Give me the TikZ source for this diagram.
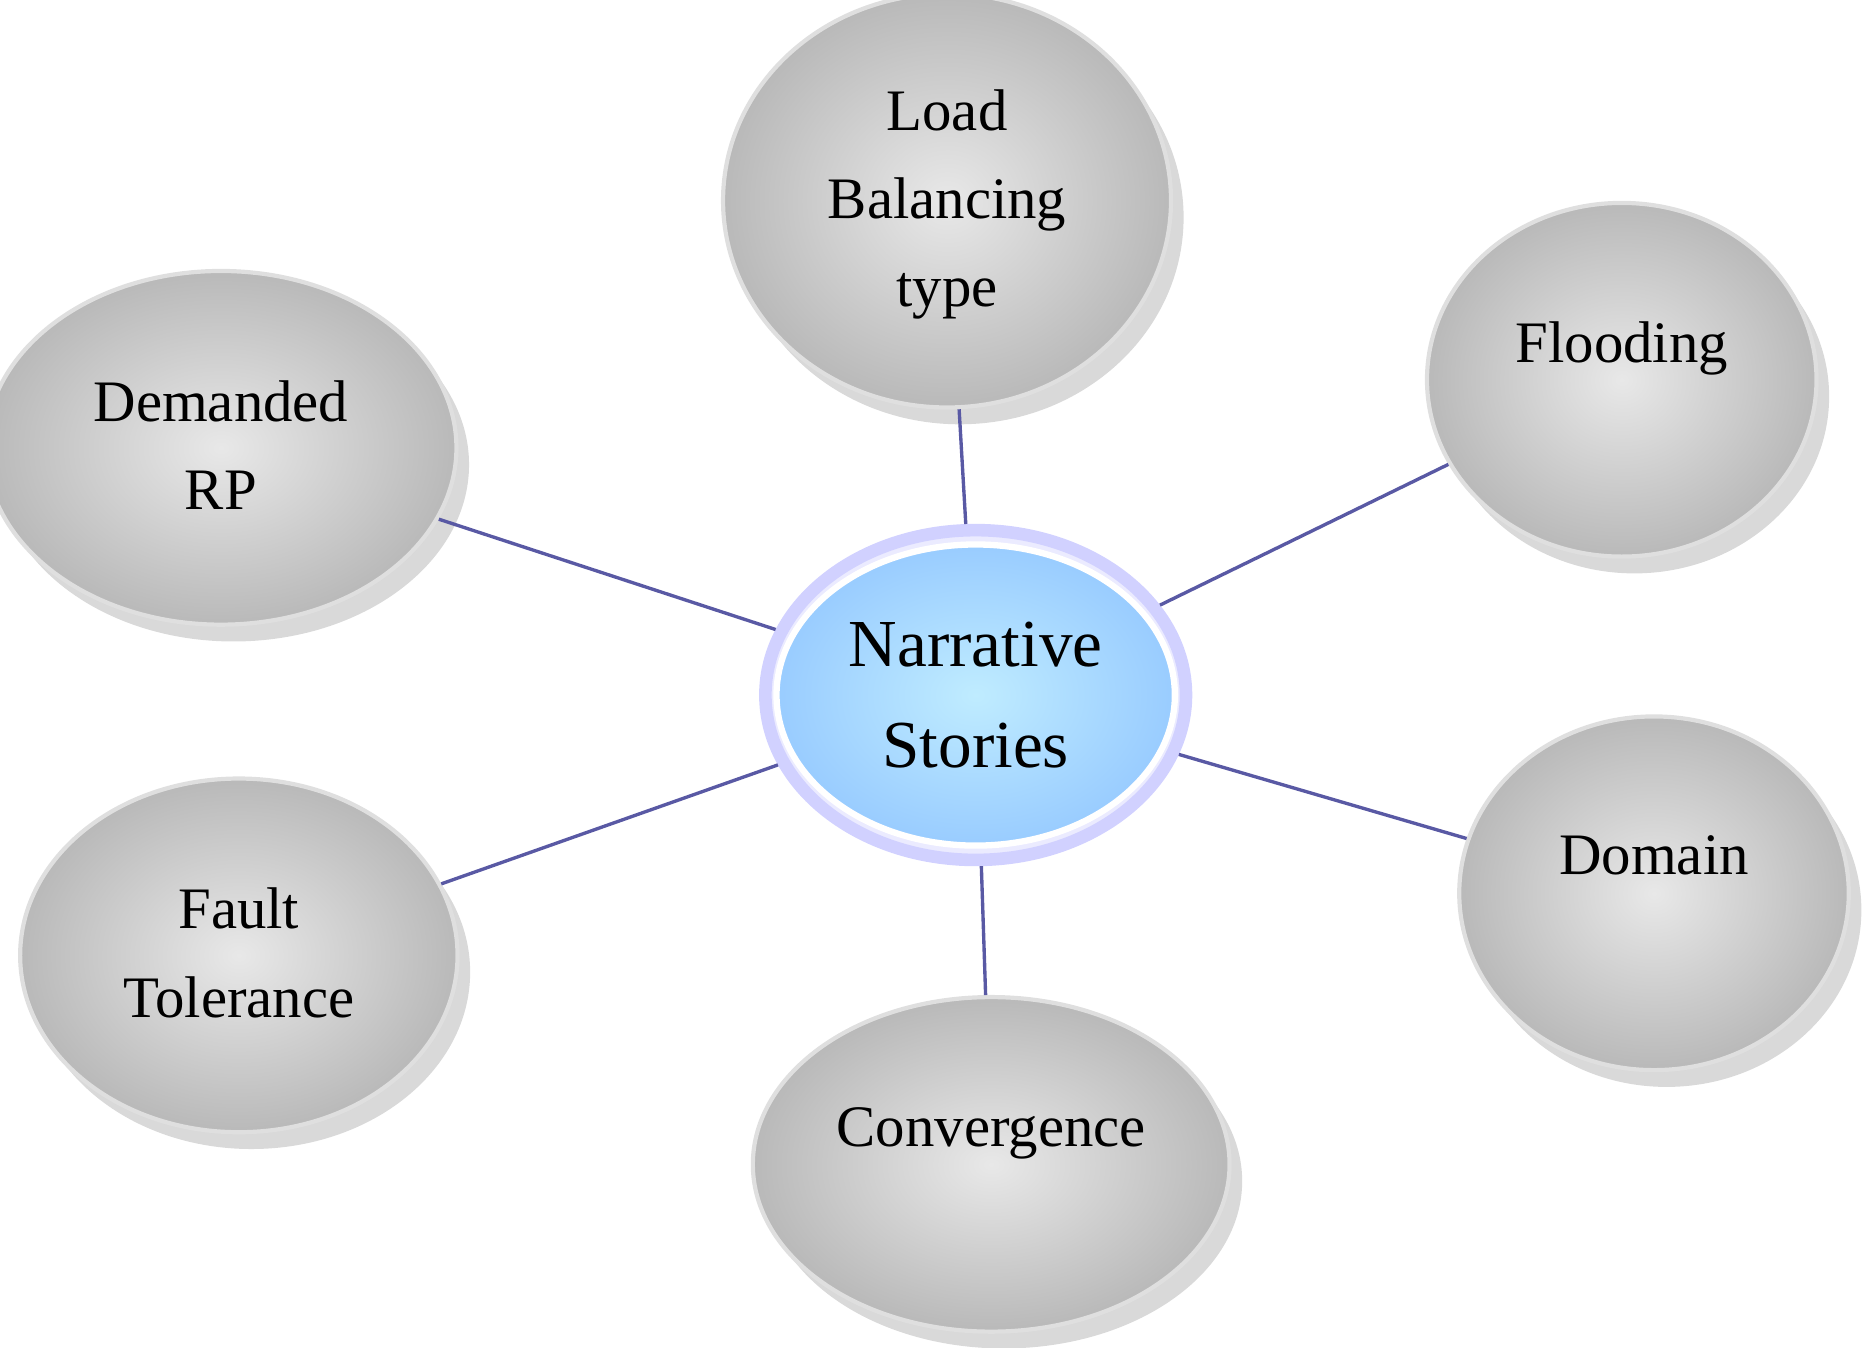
\documentclass[tikz,border=0pt]{standalone}
\usepackage{fontspec}
\setmainfont{Liberation Serif}
\usetikzlibrary{shapes.geometric,shadows}
\begin{document}
\begin{tikzpicture}[x=0.01cm,y=-0.01cm,
  bub/.style={ellipse,inner color=gray!18,outer color=gray!55,draw=gray!25,line width=1pt,
    drop shadow={shadow xshift=3pt,shadow yshift=-4pt,opacity=0.3},
    font=\fontsize{14}{21}\selectfont,align=center},
  con/.style={draw=blue!45!black!65,line width=0.8pt}]
\useasboundingbox (0,0) rectangle (1560,1128);
\node[ellipse,minimum width=3.52cm,minimum height=2.76cm,fill=blue!8,draw=blue!18,line width=3pt] (n0) at (817,582) {};
\node[ellipse,minimum width=3.3cm,minimum height=2.52cm,inner color=blue!30!cyan!25!white,outer color=blue!50!cyan!40!white,draw=white,line width=1.5pt,font=\fontsize{16}{24}\selectfont,align=center] (n) at (817,582) {Narrative\\Stories};
\node[bub,minimum width=3.24cm,minimum height=2.96cm] (lb) at (793,168) {\raisebox{20pt}{\begin{tabular}{c}Load\\Balancing\\type\end{tabular}}};
\node[bub,minimum width=3.26cm,minimum height=2.96cm] (fl) at (1358,318) {\raisebox{18pt}{Flooding}};
\node[bub,minimum width=3.26cm,minimum height=2.96cm] (dr) at (185,375) {\raisebox{10pt}{\begin{tabular}{c}Demanded\\RP\end{tabular}}};
\node[bub,minimum width=3.52cm,minimum height=2.96cm] (ft) at (200,800) {\begin{tabular}{c}Fault\\Tolerance\end{tabular}};
\node[bub,minimum width=3.26cm,minimum height=2.96cm] (dm) at (1385,748) {\raisebox{18pt}{Domain}};
\node[bub,minimum width=3.56cm,minimum height=2.8cm] (cv) at (830,975) {\raisebox{18pt}{Convergence}};
\draw[con] (lb) -- (n0);
\draw[con] (fl) -- (n0);
\draw[con] (dr) -- (n0);
\draw[con] (ft) -- (n0);
\draw[con] (dm) -- (n0);
\draw[con] (cv) -- (n0);
\end{tikzpicture}
\end{document}
